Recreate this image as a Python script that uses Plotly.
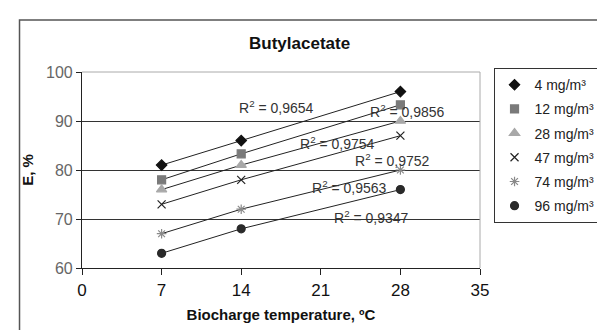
import plotly.graph_objects as go

temps = [7, 14, 28]
series_names = ["4 mg/m³", "12 mg/m³", "28 mg/m³", "47 mg/m³", "74 mg/m³", "96 mg/m³"]
e_4 = [81, 86, 96]
e_12 = [78, 83.3, 93.3]
e_28 = [76, 81, 90]
e_47 = [73, 78, 87]
e_74 = [67, 72, 80]
e_96 = [63, 68, 76]
r2_labels = ["R<sup>2</sup> = 0,9654", "R<sup>2</sup> = 0,9856", "R<sup>2</sup> = 0,9754",
             "R<sup>2</sup> = 0,9752", "R<sup>2</sup> = 0,9563", "R<sup>2</sup> = 0,9347"]
r2_x = [17.1, 28.6, 22.5, 27.3, 23.5, 25.5]
r2_y = [92.9, 92.0, 85.5, 82.0, 76.5, 70.4]
x_ticks = [0, 7, 14, 21, 28, 35]
y_ticks = [60, 70, 80, 90, 100]

values = [e_4, e_12, e_28, e_47, e_74, e_96]
symbols = ["diamond", "square", "triangle-up", "x-thin-open", "asterisk-open", "circle"]
colors = ["#111111", "#7a7a7a", "#a8a8a8", "#222222", "#8a8a8a", "#2a2a2a"]
sizes = [8, 8, 9, 8, 8, 8]

fig = go.Figure()
# connecting lines (not in legend)
for i, vals in enumerate(values):
    fig.add_trace(go.Scatter(
        x=temps, y=vals, mode="lines", showlegend=False, hoverinfo="skip",
        line=dict(color="#222222", width=1),
    ))
# markers (legend)
for i, (name, vals) in enumerate(zip(series_names, values)):
    fig.add_trace(go.Scatter(
        x=temps, y=vals, name=name, mode="markers", legendgroup=str(i),
        marker=dict(symbol=symbols[i], color=colors[i], size=sizes[i],
                    line=dict(color=colors[i], width=1.2)),
    ))

for tx, ty, lab in zip(r2_x, r2_y, r2_labels):
    fig.add_annotation(x=tx, y=ty, text=lab, showarrow=False,
                       font=dict(family="Liberation Sans, Arial", size=14, color="#333333"))

# outer chart frame
fig.add_shape(type="rect", xref="paper", yref="paper", x0=-0.157, x1=1.35, y0=-0.4, y1=1.265,
              line=dict(color="#555555", width=1.5), layer="below")
# plot area top/right border
fig.add_shape(type="line", xref="paper", yref="paper", x0=0, x1=1, y0=1, y1=1,
              line=dict(color="#aaaaaa", width=1))
fig.add_shape(type="line", xref="paper", yref="paper", x0=1, x1=1, y0=0, y1=1,
              line=dict(color="#aaaaaa", width=1))

fig.update_layout(
    width=605, height=330,
    margin=dict(l=74, r=124, t=64, b=70),
    paper_bgcolor="white", plot_bgcolor="white",
    font=dict(family="Liberation Sans, Arial", color="#111111"),
    title=dict(text="<b>Butylacetate</b>", x=0.482, xanchor="center", y=0.894, yanchor="middle",
               font=dict(size=17, color="#111111")),
    xaxis=dict(range=[0, 35], tickvals=x_ticks, showgrid=False, zeroline=False,
               showline=True, linecolor="#222222", linewidth=1.2,
               ticks="outside", ticklen=6, tickcolor="#222222",
               tickfont=dict(size=17, color="#111111"),
               title=dict(text="<b>Biocharge temperature, ºC</b>", font=dict(size=15), standoff=10)),
    yaxis=dict(range=[60, 100], tickvals=y_ticks, showgrid=True, gridcolor="#333333", gridwidth=1,
               zeroline=False, showline=True, linecolor="#222222", linewidth=1.2,
               ticks="outside", ticklen=5, tickcolor="#222222",
               tickfont=dict(size=16, color="#666666"),
               title=dict(text="<b>E, %</b>", font=dict(size=15), standoff=8)),
    legend=dict(x=1.034, y=1.02, xanchor="left", yanchor="top",
                bordercolor="#333333", borderwidth=1, bgcolor="white",
                font=dict(size=14, color="#222222"), tracegroupgap=3, itemwidth=30),
    showlegend=True,
)

fig.write_html("out.html")
